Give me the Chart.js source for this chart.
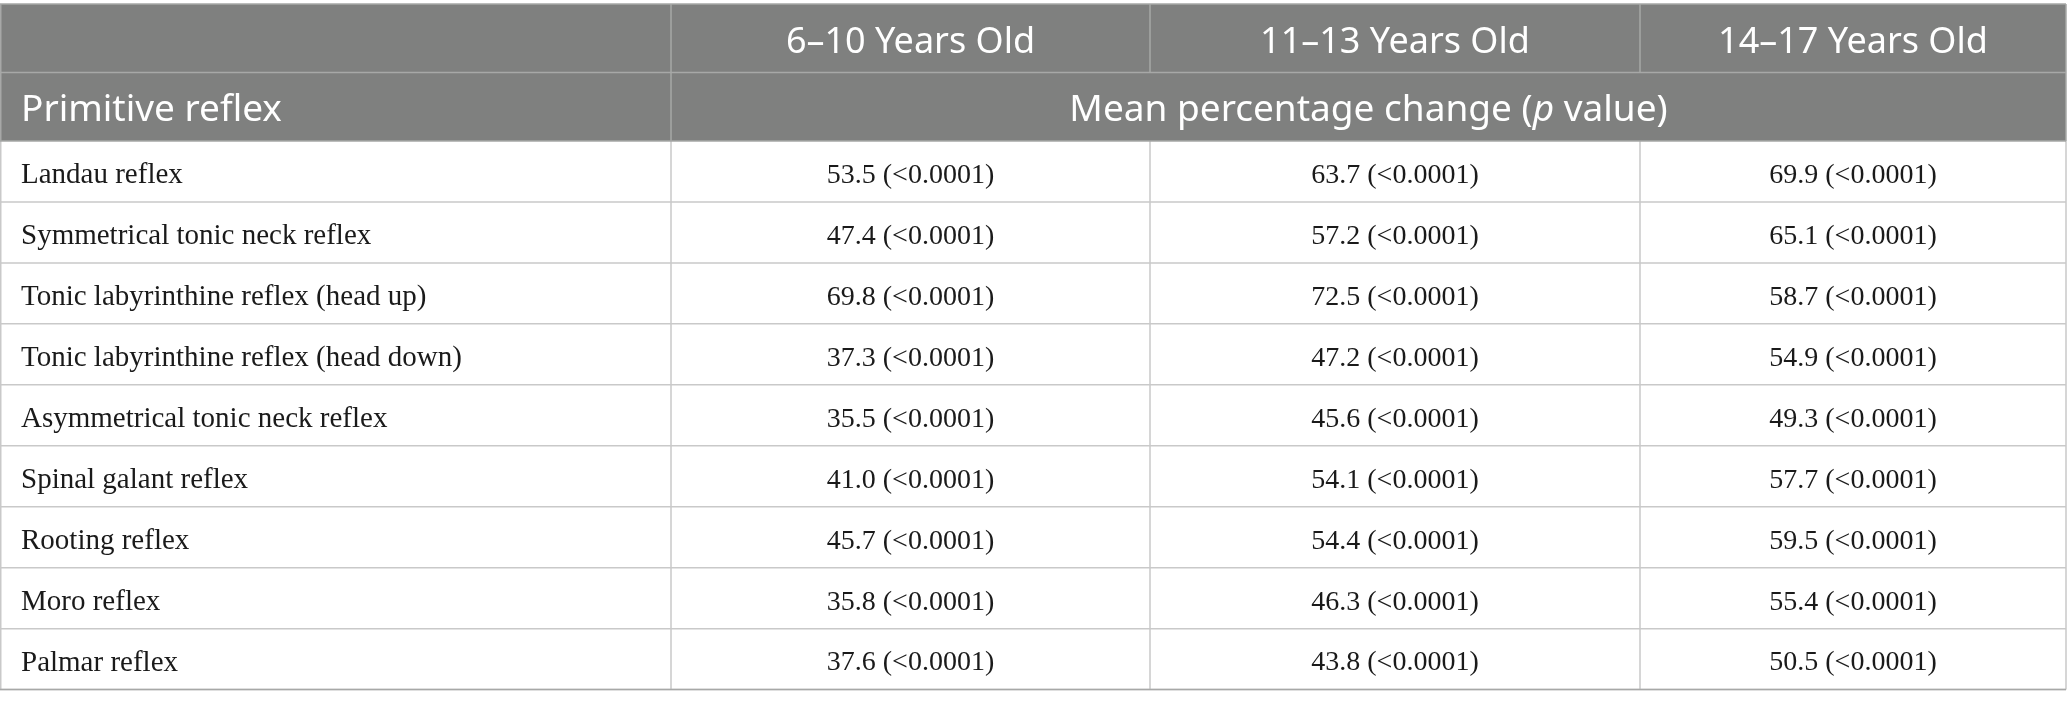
<!doctype html>
<html lang="en">
<head>
<meta charset="utf-8">
<title>Primitive reflex - mean percentage change by age group</title>
<style>
  * { margin: 0; padding: 0; }
  body { background: #fff; width: 2067px; height: 710px; overflow: hidden; }
  canvas { display: block; }
</style>
</head>
<body>
<canvas id="reflexTable" width="2067" height="710"></canvas>
<script src="https://cdn.jsdelivr.net/npm/chart.js@4.4.1/dist/chart.umd.min.js"></script>
<script>
// data
const ageGroups = ['6–10 Years Old', '11–13 Years Old', '14–17 Years Old'];
const reflexes = [
  'Landau reflex',
  'Symmetrical tonic neck reflex',
  'Tonic labyrinthine reflex (head up)',
  'Tonic labyrinthine reflex (head down)',
  'Asymmetrical tonic neck reflex',
  'Spinal galant reflex',
  'Rooting reflex',
  'Moro reflex',
  'Palmar reflex'
];
const change6to10 = [53.5, 47.4, 69.8, 37.3, 35.5, 41.0, 45.7, 35.8, 37.6];
const change11to13 = [63.7, 57.2, 72.5, 47.2, 45.6, 54.1, 54.4, 46.3, 43.8];
const change14to17 = [69.9, 65.1, 58.7, 54.9, 49.3, 57.7, 59.5, 55.4, 50.5];
const pValues = ['<0.0001', '<0.0001', '<0.0001', '<0.0001', '<0.0001', '<0.0001', '<0.0001', '<0.0001', '<0.0001'];
const rowHeader = 'Primitive reflex';
const spanHeader = ['Mean percentage change (', 'p', ' value)'];

// look
const headerBg = '#7f807f';
const headerLine = '#a7a8a7';
const bodyLine = '#c9c9c9';
const textColour = '#1a1a1a';
const sansFont = "'Noto Sans', sans-serif";
const serifFont = "'Liberation Serif', serif";
// relative column widths (the three age-group columns are not equal)
const columnEdges = [0, 479, 969, 1395].map(v => v / 1395);

// category scale whose columns follow columnEdges
const CategoryScale = Chart.CategoryScale || Chart.registry.getScale('category');
class ColumnScale extends CategoryScale {
  getPixelForDecimal(decimal) {
    if (this._reversePixels) decimal = 1 - decimal;
    const n = columnEdges.length - 1;
    const k = Math.min(n - 1, Math.max(0, Math.floor(decimal * n)));
    const f = columnEdges[k] + (decimal * n - k) * (columnEdges[k + 1] - columnEdges[k]);
    return this._startPixel + f * this._length;
  }
}
ColumnScale.id = 'columns';
ColumnScale.defaults = CategoryScale.defaults;
Chart.register(ColumnScale);

const series = [change6to10, change11to13, change14to17];
const datasets = series.map((values, k) => ({
  label: ageGroups[k],
  data: reflexes.map((r, i) => ({ x: ageGroups[k], y: r, v: values[i], p: pValues[i] })),
  pointRadius: 0,
  pointHoverRadius: 0
}));

// header background + table rules
const tableFrame = {
  id: 'tableFrame',
  beforeDraw(chart) {
    const { ctx, chartArea: { top, bottom, right }, scales: { x, y } } = chart;
    const headTop = x.top;
    const headMid = (x.top + top) / 2;
    const colLines = [0, 1, 2, 3].map(k => x.getPixelForValue(k - 0.5));
    ctx.save();
    ctx.fillStyle = headerBg;
    ctx.fillRect(0, headTop, right, top - headTop);

    ctx.lineWidth = 1.5;
    ctx.strokeStyle = headerLine;
    ctx.beginPath();
    [headTop, headMid].forEach(py => { ctx.moveTo(0, py); ctx.lineTo(right, py); });
    ctx.moveTo(0.75, headTop); ctx.lineTo(0.75, top);
    ctx.moveTo(right, headTop); ctx.lineTo(right, top);
    colLines.slice(1, 3).forEach(px => { ctx.moveTo(px, headTop); ctx.lineTo(px, headMid); });
    ctx.moveTo(colLines[0], headTop); ctx.lineTo(colLines[0], top);
    ctx.stroke();

    ctx.strokeStyle = bodyLine;
    ctx.beginPath();
    for (let i = 0; i < reflexes.length; i++) {
      const py = y.getPixelForValue(i + 0.5);
      ctx.moveTo(0, py); ctx.lineTo(right, py);
    }
    [0.75, ...colLines].forEach(px => { ctx.moveTo(px, top); ctx.lineTo(px, bottom); });
    ctx.stroke();

    ctx.strokeStyle = headerLine;
    ctx.beginPath();
    ctx.moveTo(0, top); ctx.lineTo(right, top);
    ctx.moveTo(0, bottom); ctx.lineTo(right, bottom);
    ctx.stroke();
    ctx.restore();
  },
  afterDatasetsDraw(chart) {
    const { ctx, chartArea: { top, left, right }, scales: { x, y } } = chart;
    const headMid = (x.top + top) / 2;
    const rowTwo = (headMid + top) / 2 + 4;
    ctx.save();
    ctx.textBaseline = 'middle';
    ctx.fillStyle = '#ffffff';

    // second header row
    ctx.font = '37px ' + sansFont;
    ctx.textAlign = 'left';
    ctx.fillText(rowHeader, y.left, rowTwo);

    const fonts = ['37px ' + sansFont, 'italic 37px ' + sansFont, '37px ' + sansFont];
    const widths = spanHeader.map((s, i) => { ctx.font = fonts[i]; return ctx.measureText(s).width; });
    let px = (left + right) / 2 - widths.reduce((a, b) => a + b, 0) / 2;
    spanHeader.forEach((s, i) => {
      ctx.font = fonts[i];
      ctx.fillText(s, px, rowTwo);
      px += widths[i];
    });

    // cell values
    ctx.font = '28px ' + serifFont;
    ctx.fillStyle = textColour;
    ctx.textAlign = 'center';
    chart.data.datasets.forEach((ds, k) => {
      chart.getDatasetMeta(k).data.forEach((pt, i) => {
        const raw = ds.data[i];
        ctx.fillText(`${raw.v.toFixed(1)} (${raw.p})`, pt.x, pt.y + 4);
      });
    });
    ctx.restore();
  }
};

const myChart = new Chart(document.getElementById('reflexTable'), {
  type: 'scatter',
  data: { datasets },
  options: {
    responsive: false,
    animation: false,
    devicePixelRatio: 1,
    events: [],
    layout: { padding: { top: 4, left: 21, right: 1, bottom: 13 } },
    scales: {
      x: {
        type: 'columns',
        labels: ageGroups,
        position: 'top',
        offset: true,
        border: { display: false },
        grid: { display: false, drawTicks: false },
        ticks: {
          color: '#ffffff',
          font: { family: sansFont, size: 36 },
          padding: 77,
          maxRotation: 0,
          autoSkip: false
        },
        afterFit: (scale) => { scale.height = 137; }
      },
      y: {
        type: 'category',
        labels: reflexes,
        position: 'left',
        offset: true,
        border: { display: false },
        grid: { display: false, drawTicks: false },
        ticks: {
          color: textColour,
          font: { family: serifFont, size: 29 },
          crossAlign: 'far',
          labelOffset: 4,
          autoSkip: false
        },
        afterFit: (scale) => { scale.width = 650; }
      }
    },
    plugins: {
      legend: { display: false },
      tooltip: { enabled: false }
    }
  },
  plugins: [tableFrame]
});
</script>
</body>
</html>
